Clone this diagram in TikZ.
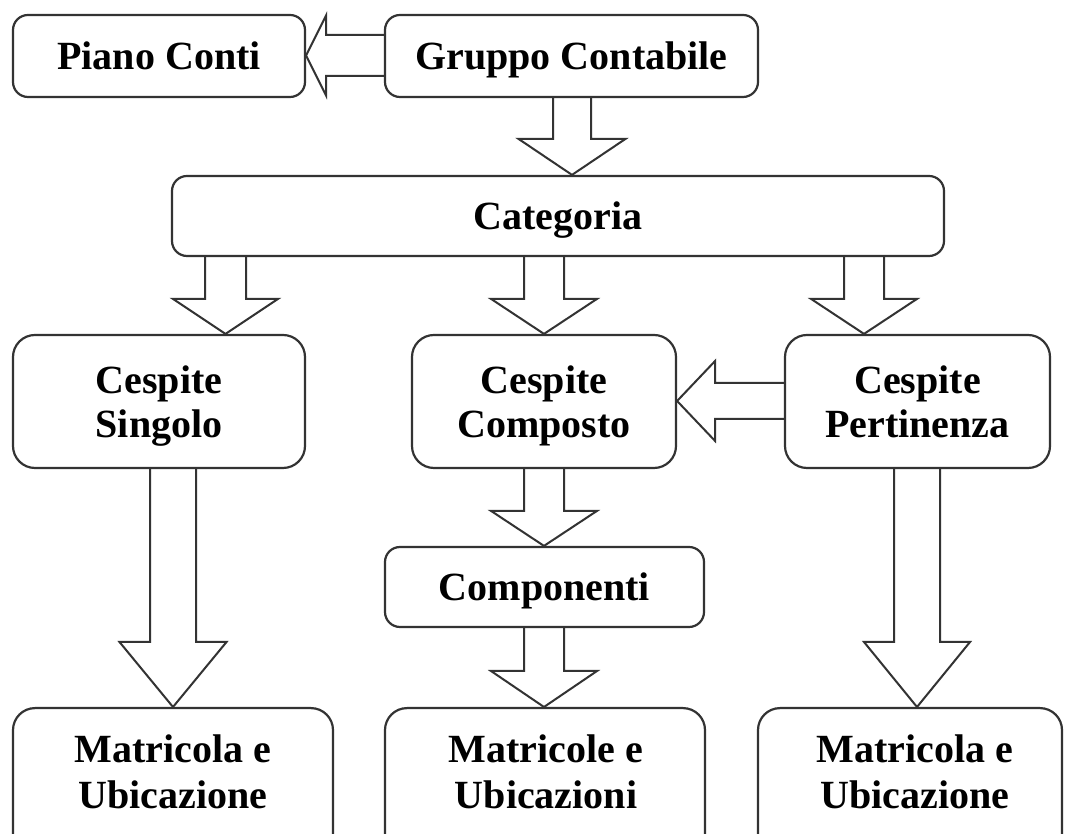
\documentclass[tikz,border=0pt]{standalone}
\usepackage{fontspec}
\setmainfont{Liberation Serif}
\usetikzlibrary{calc}
\newcommand{\nd}[1]{\raisebox{0pt}[\height][0pt]{#1}}
\tikzset{
  boxfont/.style={font=\fontsize{40}{44}\selectfont\bfseries},
  box/.style={draw=black!80, line width=2.2pt, rounded corners=15pt, inner sep=0pt, boxfont, align=center},
  onebox/.style={box, text height=28pt, text depth=0pt},
  tallbox/.style={box, rounded corners=22pt},
  lbl/.style={inner sep=0pt, align=center, font=\fontsize{40}{46}\selectfont\bfseries},
  fat/.style={draw=black!80, line width=2pt, line join=miter},
}
% #1 from, #2 to, #3 centre x, #4 shaft half width, #5 head half width, #6 head length
\newcommand{\fatdown}[6]{\draw[fat] let \p1=(#1.south), \p2=(#2.north) in
  (#3pt-#4pt,\y1) -- (#3pt-#4pt,\y2+#6pt) -- (#3pt-#5pt,\y2+#6pt) -- (#3pt,\y2)
  -- (#3pt+#5pt,\y2+#6pt) -- (#3pt+#4pt,\y2+#6pt) -- (#3pt+#4pt,\y1);}
% #1 from (right), #2 to (left), #3 centre y, #4 shaft half, #5 head half, #6 head length
\newcommand{\fatleft}[6]{\draw[fat] let \p1=(#1.west), \p2=(#2.east) in
  (\x1,#3pt+#4pt) -- (\x2+#6pt,#3pt+#4pt) -- (\x2+#6pt,#3pt+#5pt) -- (\x2,#3pt)
  -- (\x2+#6pt,#3pt-#5pt) -- (\x2+#6pt,#3pt-#4pt) -- (\x1,#3pt-#4pt);}
\begin{document}
\begin{tikzpicture}[x=1pt,y=1pt]
\useasboundingbox (0,0) rectangle (1065,834);
\clip (0,0) rectangle (1065,834);
\fill[white] (0,0) rectangle (1065,834);

\node[onebox, minimum width=292, minimum height=82] (piano) at (159,778) {Piano Conti};
\node[onebox, minimum width=373, minimum height=82] (gruppo) at (571.5,778) {Gruppo Contabile};
\node[onebox, minimum width=772, minimum height=80] (cat) at (558,618) {Categoria};
\node[tallbox, minimum width=292, minimum height=133] (sing) at (159,432.5) {Cespite\\\nd{Singolo}};
\node[tallbox, minimum width=264, minimum height=133] (comp) at (544,432.5) {Cespite\\\nd{Composto}};
\node[tallbox, minimum width=265, minimum height=133] (pert) at (917.5,432.5) {Cespite\\\nd{Pertinenza}};
\node[onebox, minimum width=319, minimum height=80] (compon) at (544.5,247) {Componenti};
\node[tallbox, minimum width=320, minimum height=200, anchor=north] (m1) at (173,127) {};
\node[tallbox, minimum width=320, minimum height=200, anchor=north] (m2) at (545,127) {};
\node[tallbox, minimum width=304, minimum height=200, anchor=north] (m3) at (910,127) {};
\node[lbl] (m1t) at (173,62.5) {Matricola e\\\nd{Ubicazione}};
\node[lbl] (m2t) at (546,62.5) {Matricole e\\\nd{Ubicazioni}};
\node[lbl] (m3t) at (915,62.5) {Matricola e\\\nd{Ubicazione}};

\fatleft{gruppo}{piano}{778.5}{20.5}{40}{20}
\fatdown{gruppo}{cat}{572}{19}{53.5}{36}
\fatdown{cat}{sing}{225.5}{20.5}{52.5}{35}
\fatdown{cat}{comp}{544}{20}{53}{35}
\fatdown{cat}{pert}{864}{20}{53}{35}
\fatleft{pert}{comp}{433}{18}{40}{38}
\fatdown{sing}{m1}{173}{23}{53.5}{65}
\fatdown{comp}{compon}{544}{20}{53}{35}
\fatdown{compon}{m2}{544}{20}{53}{36}
\fatdown{pert}{m3}{917}{23}{53}{65}
\end{tikzpicture}
\end{document}
